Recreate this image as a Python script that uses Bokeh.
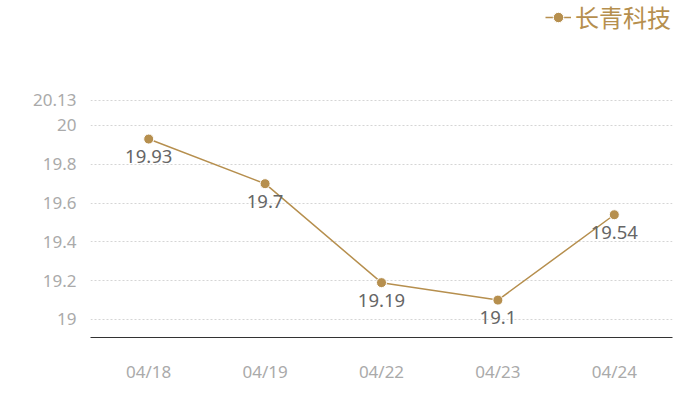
from bokeh.plotting import figure
from bokeh.models import ColumnDataSource, FixedTicker, Range1d, Legend, LegendItem
from bokeh.core.properties import value
from bokeh.embed import file_html
from bokeh.resources import INLINE

dates = ["04/18", "04/19", "04/22", "04/23", "04/24"]
prices = [19.93, 19.7, 19.19, 19.1, 19.54]
price_labels = ["19.93", "19.7", "19.19", "19.1", "19.54"]
y_ticks = [19, 19.2, 19.4, 19.6, 19.8, 20, 20.13]
series_name = "长青科技"

GOLD = "#b68f4e"

src = ColumnDataSource(dict(x=dates, y=prices, lab=price_labels))

# frame spans the full top of the canvas so the legend can sit inside it
p = figure(width=700, height=400, x_range=dates, y_range=Range1d(18.9072, 20.6443),
           output_backend="svg", toolbar_location=None,
           min_border_left=90, min_border_right=28, min_border_top=0, min_border_bottom=63)
p.outline_line_color = None
p.background_fill_color = "white"
p.border_fill_color = "white"

ln = p.line("x", "y", source=src, line_color=GOLD, line_width=1.5)
sc = p.scatter("x", "y", source=src, size=10, fill_color=GOLD, line_color="white", line_width=1)
p.text("x", "y", text="lab", source=src, y_offset=11, text_align="center", text_baseline="top",
       text_font=value("Noto Sans"), text_font_size="18.5px", text_color="#666666")

p.yaxis.ticker = FixedTicker(ticks=y_ticks)
p.yaxis.major_label_overrides = {19: "19", 20: "20"}
p.yaxis.axis_line_color = None
p.yaxis.major_tick_line_color = None
p.yaxis.minor_tick_line_color = None
p.yaxis.major_label_text_color = "#aaaaaa"
p.yaxis.major_label_text_font = "Noto Sans"
p.yaxis.major_label_text_font_size = "17px"
p.yaxis.major_label_standoff = 8

p.xaxis.axis_line_color = "#333333"
p.xaxis.major_tick_line_color = None
p.xaxis.minor_tick_line_color = None
p.xaxis.major_label_text_color = "#aaaaaa"
p.xaxis.major_label_text_font = "Noto Sans"
p.xaxis.major_label_text_font_size = "17px"
p.xaxis.major_label_standoff = 16

p.xgrid.grid_line_color = None
p.ygrid.grid_line_color = "#d5d5d5"
p.ygrid.grid_line_dash = "2 2"
p.ygrid.grid_line_width = 1

legend = Legend(items=[LegendItem(label=series_name, renderers=[ln, sc])],
                location=(455, 303), orientation="horizontal",
                background_fill_alpha=0, border_line_color=None,
                label_text_color=GOLD, label_text_font="Noto Sans CJK SC",
                label_text_font_size="24px", glyph_width=26, glyph_height=28,
                label_height=28,
                label_standoff=4, padding=0, margin=0, spacing=0)
p.add_layout(legend, "center")

open("out.html", "w").write(file_html(p, INLINE))
